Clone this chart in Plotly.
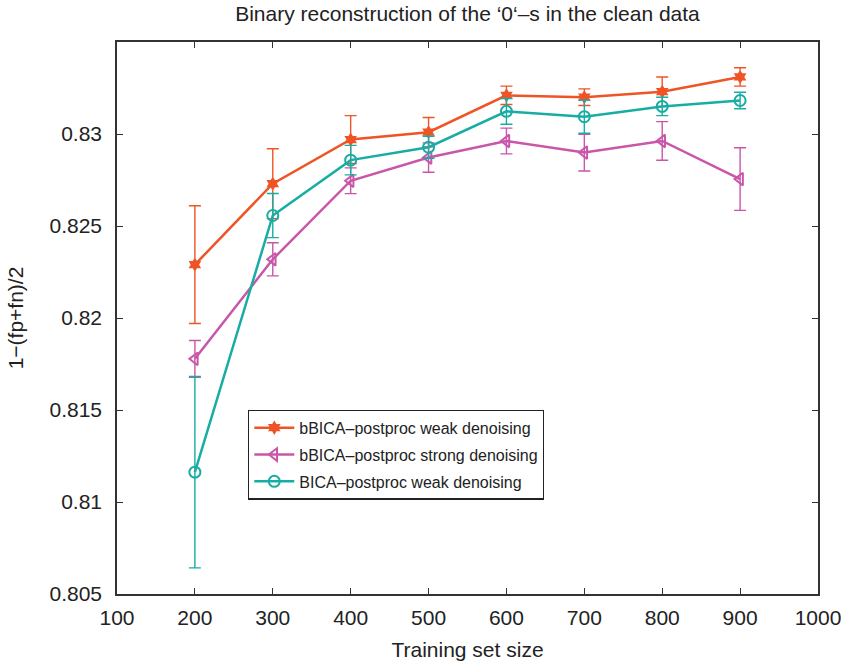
import plotly.graph_objects as go

train_size = [200, 300, 400, 500, 600, 700, 800, 900]

weak_bbica = [0.8229, 0.8273, 0.8297, 0.8301, 0.8321, 0.8320, 0.8323, 0.8331]
weak_bbica_err = [0.0032, 0.0019, 0.0013, 0.0008, 0.0005, 0.00045, 0.0008, 0.0005]

strong_bbica = [0.81778, 0.82319, 0.82746, 0.82872, 0.82962, 0.82899, 0.82962, 0.82755]
strong_bbica_err = [0.0010, 0.0009, 0.0007, 0.0008, 0.0007, 0.0010, 0.00105, 0.0017]

weak_bica = [0.81162, 0.82557, 0.82858, 0.82928, 0.83123, 0.83094, 0.8315, 0.83182]
weak_bica_err = [0.0052, 0.0012, 0.0008, 0.0006, 0.0007, 0.0009, 0.0005, 0.00045]

x_ticks = [100, 200, 300, 400, 500, 600, 700, 800, 900, 1000]
y_ticks = [0.805, 0.81, 0.815, 0.82, 0.825, 0.83]

ORANGE = "#EF5426"
MAGENTA = "#C956A8"
TEAL = "#17ADA4"
FONT = "Liberation Sans, Arial, sans-serif"

fig = go.Figure()

def add(name, y, err, color, symbol, size):
    fig.add_trace(go.Scatter(
        x=train_size, y=y, name=name, mode="lines+markers", legendgroup=name,
        line=dict(color=color, width=2.5),
        marker=dict(symbol=symbol, size=size, color=color,
                    line=dict(color=color, width=2)),
        error_y=dict(type="data", array=err, visible=True,
                     color=color, thickness=1.4, width=6),
    ))

add("bBICA\u2013postproc weak denoising", weak_bbica, weak_bbica_err, ORANGE, "hexagram", 8)
add("bBICA\u2013postproc strong denoising", strong_bbica, strong_bbica_err, MAGENTA, "triangle-left-open", 11)
add("BICA\u2013postproc weak denoising", weak_bica, weak_bica_err, TEAL, "circle-open", 11)

axis_common = dict(
    showline=True, linecolor="#333333", linewidth=1.5, mirror="ticks",
    ticks="inside", ticklen=6, tickcolor="#333333", tickwidth=1.2,
    showgrid=False, zeroline=False, ticklabeloverflow="allow", automargin=False,
    tickfont=dict(family=FONT, size=21, color="#222222"),
)

fig.update_layout(
    width=841, height=665,
    margin=dict(l=117, r=23, t=42, b=71, autoexpand=False),
    paper_bgcolor="white", plot_bgcolor="white",
    font=dict(family=FONT, color="#222222"),
    title=dict(text="Binary reconstruction of the \u20180\u2018\u2013s in the clean data",
               x=(117 + 818) / 2 / 841, xanchor="center", y=1 - 14 / 665, yanchor="middle",
               font=dict(family=FONT, size=21, color="#222222")),
    xaxis=dict(range=[100, 1000], tickvals=x_ticks, ticklabelstandoff=4,
               title=dict(text="Training set size", font=dict(family=FONT, size=21), standoff=14),
               **axis_common),
    yaxis=dict(range=[0.805, 0.835], tickvals=y_ticks, tickformat=".3~f", ticklabelstandoff=9,
               title=dict(text="1\u2212(fp+fn)/2", font=dict(family=FONT, size=21), standoff=20),
               **axis_common),
    legend=dict(x=0.187, y=0.334, xanchor="left", yanchor="top",
                bgcolor="white", bordercolor="#222222", borderwidth=1.2,
                font=dict(family=FONT, size=16, color="#222222"),
                itemwidth=40, tracegroupgap=3),
    showlegend=True,
)

fig.write_html("out.html")
